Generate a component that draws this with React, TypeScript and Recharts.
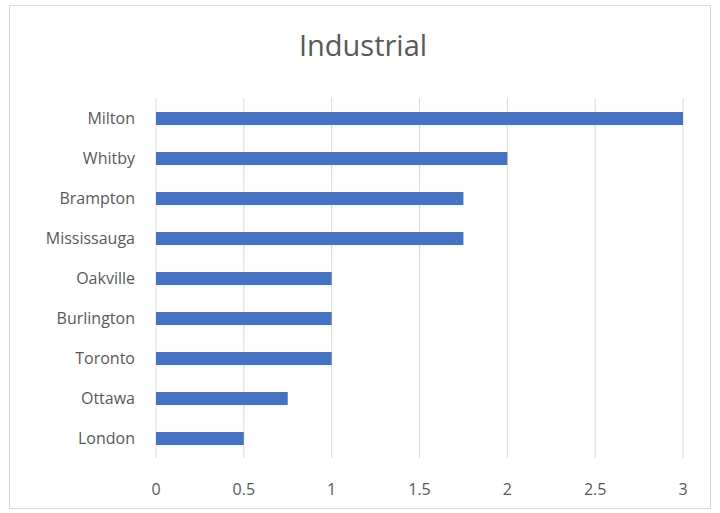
import { BarChart, Bar, XAxis, YAxis, CartesianGrid } from "recharts"

const cities = ["Milton", "Whitby", "Brampton", "Mississauga", "Oakville", "Burlington", "Toronto", "Ottawa", "London"]
const counts = [3, 2, 1.75, 1.75, 1, 1, 1, 0.75, 0.5]
const xTicks = [0, 0.5, 1, 1.5, 2, 2.5, 3]

const data = cities.map((city, i) => ({ city, value: counts[i] }))

const font = "'Open Sans', 'Noto Sans', sans-serif"

export default function App() {
  return (
    <div style={{ position: "absolute", left: 0, top: 0, width: 720, height: 513, background: "#fff", fontFamily: font }}>
      {/* chart frame */}
      <div
        style={{
          position: "absolute",
          left: 9,
          top: 5,
          width: 702,
          height: 504,
          border: "1px solid #d9d9d9",
          boxSizing: "border-box",
        }}
      />
      <div
        style={{
          position: "absolute",
          left: 0,
          top: 25,
          width: 726,
          textAlign: "center",
          fontSize: 29,
          color: "#595959",
        }}
      >
        Industrial
      </div>
      <div style={{ position: "absolute", left: 0, top: 0 }}>
        <BarChart
          width={720}
          height={513}
          data={data}
          layout="vertical"
          margin={{ top: 98, right: 37, bottom: 15, left: 0 }}
        >
          <CartesianGrid horizontal={false} stroke="#d9d9d9" />
          <XAxis
            type="number"
            domain={[0, 3]}
            ticks={xTicks}
            axisLine={false}
            tickLine={false}
            tickMargin={20}
            height={40}
            tick={{ fill: "#595959", fontSize: 16, fontFamily: font }}
          />
          <YAxis
            type="category"
            dataKey="city"
            width={156}
            axisLine={false}
            tickLine={false}
            tickMargin={15}
            tick={{ fill: "#595959", fontSize: 16, fontFamily: font }}
          />
          <Bar dataKey="value" fill="#4472c4" barSize={13} isAnimationActive={false} />
        </BarChart>
      </div>
    </div>
  )
}
